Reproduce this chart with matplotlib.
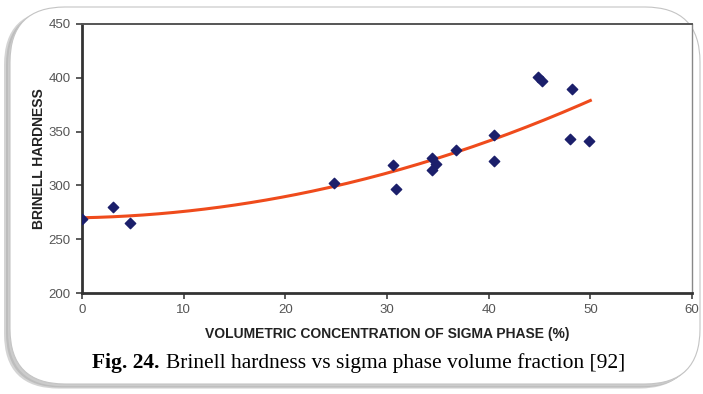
import numpy as np
import matplotlib.pyplot as plt
from matplotlib.patches import FancyBboxPatch

# sigma phase volume fraction (%) vs Brinell hardness
sigma_pct = [0.0, 3.0, 4.7, 24.8, 30.6, 30.9, 34.4, 34.8, 34.4, 36.8,
             40.5, 40.5, 44.9, 45.2, 48.2, 48.0, 49.9]
hardness = [269, 280, 265, 302, 319, 297, 325, 320, 314, 333,
            347, 323, 401, 397, 390, 343, 341]

xticks = [0, 10, 20, 30, 40, 50, 60]
yticks = [200, 250, 300, 350, 400, 450]

fig = plt.figure(figsize=(7.03, 3.94), dpi=100)
fig.patch.set_facecolor('white')

# rounded frame with a grainy grey shadow
bg = fig.add_axes([0, 0, 1, 1])
bg.set_xlim(0, 703)
bg.set_ylim(394, 0)
bg.axis('off')
for off, col in [(6, '#d4d4d4'), (4, '#bdbdbd'), (2, '#cccccc')]:
    bg.add_patch(FancyBboxPatch((10 - off, 10), 690, 375 + off * 0.6,
                                boxstyle='round,pad=0,rounding_size=55',
                                fc=col, ec='none', zorder=1))
bg.add_patch(FancyBboxPatch((10, 7), 690, 377,
                            boxstyle='round,pad=0,rounding_size=55',
                            fc='white', ec='#c4c4c4', lw=0.8, zorder=2))

ax = fig.add_axes([82 / 703, 1 - 293 / 394, 610 / 703, 269 / 394])
ax.set_facecolor('white')

# second-order trend line through the measurements
coef = np.polyfit(sigma_pct, hardness, 2)
xs = np.linspace(0, 50, 200)
ax.plot(xs, np.polyval(coef, xs), color='#ef4b1c', lw=2.2, zorder=2)
ax.scatter(sigma_pct, hardness, marker='D', s=28, color='#1b1f6b', zorder=3)

ax.set_xlim(0, 60)
ax.set_ylim(200, 450)
ax.set_xticks(xticks)
ax.set_yticks(yticks)
ax.tick_params(direction='out', length=4, width=1.2, color='#404040',
               labelsize=9.5, labelcolor='#555555', pad=4)
for lab in ax.get_xticklabels() + ax.get_yticklabels():
    lab.set_family('Liberation Sans')
ax.spines['left'].set_linewidth(2)
ax.spines['bottom'].set_linewidth(2)
ax.spines['left'].set_color('#333333')
ax.spines['bottom'].set_color('#333333')
ax.spines['top'].set_linewidth(1.4)
ax.spines['top'].set_color('#555555')
ax.spines['right'].set_linewidth(1.0)
ax.spines['right'].set_color('#888888')

ax.set_xlabel('VOLUMETRIC CONCENTRATION OF SIGMA PHASE (%)',
              fontsize=10, fontweight='bold', family='Liberation Sans',
              color='#222222', labelpad=8)
ax.set_ylabel('BRINELL HARDNESS', fontsize=10, fontweight='bold',
              family='Liberation Sans', color='#222222', labelpad=2)

# caption: bold figure number followed by plain text
cap_y = 1 - 363 / 394
t1 = fig.text(92 / 703, cap_y, 'Fig. 24.', fontsize=15.5,
              fontweight='bold', family='Liberation Serif', va='center')
fig.canvas.draw()
bb = t1.get_window_extent()
fig.text((bb.x1 + 6) / fig.bbox.width, cap_y,
         'Brinell hardness vs sigma phase volume fraction [92]',
         fontsize=15.5, family='Liberation Serif', va='center')

fig.savefig('out.png', dpi=100)
